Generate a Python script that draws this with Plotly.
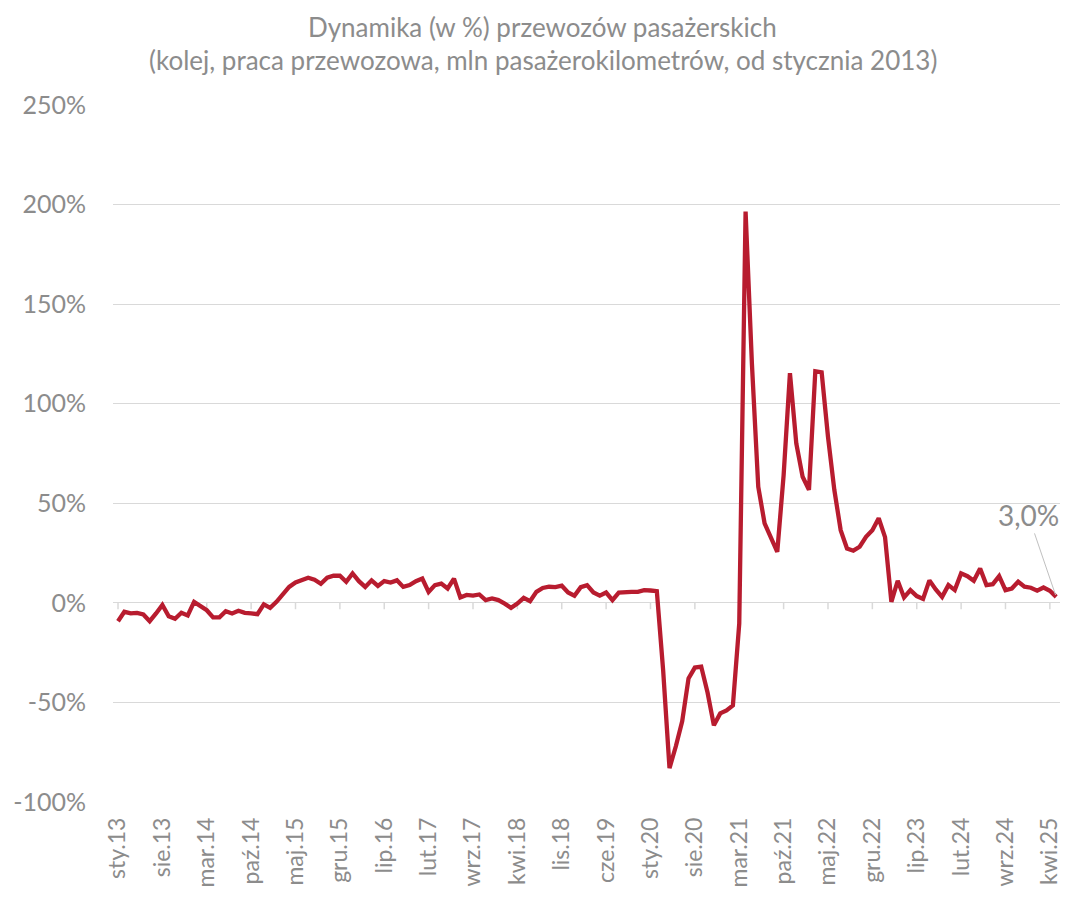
import plotly.graph_objects as go

months = ["sty", "lut", "mar", "kwi", "maj", "cze", "lip", "sie", "wrz", "paź", "lis", "gru"]
years = list(range(13, 26))
categories = [f"{m}.{y}" for y in years for m in months][:149]  # sty.13 .. maj.25

values = [
    # 2013
    -9.2, -4.5, -5.3, -5.0, -5.8, -9.2, -5.3, -1.0, -6.7, -8.0, -5.0, -6.3,
    # 2014
    0.5, -1.7, -3.7, -7.3, -7.3, -4.2, -5.3, -4.0, -5.0, -5.3, -5.7, -0.8,
    # 2015
    -2.5, 0.5, 4.0, 8.0, 10.2, 11.2, 12.6, 11.6, 9.6, 12.6, 13.6, 13.6,
    # 2016
    10.6, 14.8, 10.9, 8.0, 11.3, 8.5, 10.9, 10.2, 11.3, 8.0, 8.9, 10.9,
    # 2017
    12.2, 5.5, 8.9, 9.7, 7.2, 12.2, 2.7, 4.0, 3.6, 4.2, 1.4, 2.2,
    # 2018
    1.4, -0.4, -2.5, -0.4, 2.5, 0.8, 5.5, 7.5, 8.1, 7.9, 8.6, 5.2,
    # 2019
    3.6, 7.9, 8.9, 5.2, 3.6, 5.2, 1.4, 5.2, 5.5, 5.5, 5.5, 6.4,
    # 2020
    6.2, 5.9, -34.0, -83.0, -72.0, -59.5, -38.0, -32.5, -32.0, -45.0, -61.5, -55.5,
    # 2021
    -54.0, -51.5, -10.5, 196.5, 120.0, 58.3, 39.9, 33.2, 25.6, 64.0, 115.3, 80.1,
    # 2022
    63.3, 56.7, 116.3, 115.8, 83.4, 56.7, 36.5, 27.3, 26.2, 28.2, 33.2, 36.5,
    # 2023
    42.5, 33.0, 0.5, 11.1, 2.7, 6.4, 3.4, 2.0, 11.3, 6.7, 3.0, 8.9,
    # 2024
    6.4, 14.8, 13.4, 11.1, 17.3, 8.9, 9.4, 13.4, 6.4, 7.2, 10.6, 8.1,
    # 2025
    7.6, 6.1, 7.7, 6.1, 3.0,
]

tick_labels = categories[::7]
y_ticks = [-100, -50, 0, 50, 100, 150, 200, 250]
y_tick_text = [f"{v}%" for v in y_ticks]
last_label = "3,0%"

title_lines = [
    "Dynamika (w %) przewozów pasażerskich",
    "(kolej, praca przewozowa, mln pasażerokilometrów, od stycznia 2013)",
]

GRAY = "#8c8c8c"
GRID = "#d9d9d9"
LINE = "#b81c2f"
FONT = "Lato"

fig = go.Figure()
fig.add_trace(go.Scatter(
    x=categories, y=values, mode="lines",
    line=dict(color=LINE, width=4.3), hoverinfo="x+y",
))

shapes = []
for lab in tick_labels:
    shapes.append(dict(type="line", xref="x", yref="y", x0=lab, x1=lab, y0=0, y1=-3.2,
                       line=dict(color=GRID, width=1.5), layer="below"))

annotations = [
    dict(x=0.454, y=1.112, xref="paper", yref="paper", xanchor="center", yanchor="middle",
         text=title_lines[0], showarrow=False, font=dict(family=FONT, size=26, color=GRAY)),
    dict(x=0.454, y=1.064, xref="paper", yref="paper", xanchor="center", yanchor="middle",
         text=title_lines[1], showarrow=False, font=dict(family=FONT, size=26, color=GRAY)),
    dict(x=categories[-1], y=values[-1], xref="x", yref="y",
         text=last_label, showarrow=True, arrowhead=0, arrowwidth=1,
         arrowcolor="#c0c0c0", ax=-28, ay=-82, standoff=2,
         font=dict(family=FONT, size=28, color=GRAY)),
]

fig.update_layout(
    width=1065, height=901,
    margin=dict(l=113, r=3, t=105, b=99),
    paper_bgcolor="white", plot_bgcolor="white",
    showlegend=False,
    font=dict(family=FONT, color=GRAY),
    xaxis=dict(
        type="category",
        categoryorder="array", categoryarray=categories,
        range=[-0.79, 148.6],
        tickmode="array", tickvals=tick_labels, ticktext=tick_labels,
        tickangle=-90,
        tickfont=dict(family=FONT, size=23, color=GRAY),
        showgrid=False, zeroline=False, showline=False,
        ticks="", ticklabelstandoff=10,
    ),
    yaxis=dict(
        range=[-100, 250],
        tickmode="array", tickvals=y_ticks, ticktext=y_tick_text,
        tickfont=dict(family=FONT, size=25, color=GRAY),
        showgrid=True, gridcolor=GRID, gridwidth=1,
        zeroline=False, showline=False, ticks="",
        ticklabelstandoff=26,
    ),
    shapes=shapes,
    annotations=annotations,
)

fig.write_html("out.html", config={"displayModeBar": False})

# remove default page margin so the figure sits at the window's top-left corner
with open("out.html", "r", encoding="utf-8") as f:
    html = f.read()
html = html.replace("<head>", "<head><style>html,body{margin:0;padding:0;overflow:hidden;}</style>", 1)
with open("out.html", "w", encoding="utf-8") as f:
    f.write(html)
